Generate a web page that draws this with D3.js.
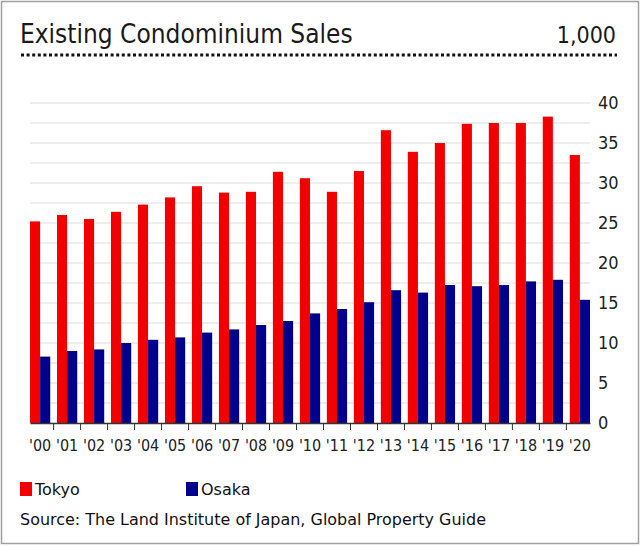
<!DOCTYPE html>
<html><head><meta charset="utf-8">
<script src="https://cdn.jsdelivr.net/npm/d3@7"></script>
<style>body{margin:0;background:#fff}svg{display:block}</style>
</head><body>
<script>
const years = ["'00","'01","'02","'03","'04","'05","'06","'07","'08","'09","'10","'11","'12","'13","'14","'15","'16","'17","'18","'19","'20"];
const tokyo = [25.2,26.0,25.5,26.4,27.3,28.2,29.6,28.8,28.9,31.4,30.6,28.9,31.5,36.6,33.9,35.0,37.4,37.5,37.5,38.3,33.5];
const osaka = [8.3,9.0,9.2,10.0,10.4,10.7,11.3,11.7,12.25,12.75,13.7,14.25,15.1,16.6,16.3,17.25,17.1,17.25,17.7,17.9,15.4];
const yTicks = [0,5,10,15,20,25,30,35,40];
const gridVals = [2.5,5,7.5,10,12.5,15,17.5,20,22.5,25,27.5,30,32.5,35,37.5,40];
const seriesNames = ["Tokyo","Osaka"];
const colors = ["#f20000","#00008c"];

const W=640,H=546;
const svg=d3.select("body").append("svg").attr("width",W).attr("height",H);
const font="'DejaVu Sans Condensed', 'DejaVu Sans', sans-serif";
const font2="'DejaVu Sans', sans-serif";

svg.append("rect").attr("x",1.5).attr("y",1.5).attr("width",W-3).attr("height",H-4)
  .attr("fill","#fff").attr("stroke","#a0a0a0").attr("stroke-width",1.5);

svg.append("text").attr("x",20).attr("y",43).attr("font-family",font).attr("font-size",26)
  .attr("fill","#1a1a1a").text("Existing Condominium Sales");
svg.append("text").attr("x",616).attr("y",43).attr("text-anchor","end").attr("font-family",font)
  .attr("font-size",23).attr("fill","#1a1a1a").text("1,000");
svg.append("line").attr("x1",21).attr("x2",617).attr("y1",55).attr("y2",55)
  .attr("stroke","#111").attr("stroke-width",3).attr("stroke-dasharray","3,2.6");

const x0=d3.scaleBand().domain(years).range([30,590]).paddingInner(0.25).paddingOuter(0);
const x1=d3.scaleBand().domain(seriesNames).range([0,x0.bandwidth()]);
const y=d3.scaleLinear().domain([0,40]).range([423,103]);

svg.append("g").selectAll("line").data(gridVals).join("line")
  .attr("x1",30).attr("x2",590).attr("y1",d=>y(d)).attr("y2",d=>y(d))
  .attr("stroke","#dcdcdc").attr("stroke-width",1);

const yAxis=svg.append("g").attr("transform","translate(590,0)")
  .call(d3.axisRight(y).tickValues(yTicks).tickSize(0).tickPadding(8));
yAxis.select(".domain").remove();
yAxis.selectAll("text").attr("font-family",font).attr("font-size",18).attr("fill","#222");

const groups=svg.append("g").selectAll("g").data(years).join("g")
  .attr("transform",d=>`translate(${x0(d)},0)`);
groups.selectAll("rect").data((d,i)=>[tokyo[i],osaka[i]].map((v,k)=>({k,v}))).join("rect")
  .attr("x",d=>x1(seriesNames[d.k])).attr("width",x1.bandwidth())
  .attr("y",d=>y(d.v)).attr("height",d=>y(0)-y(d.v)).attr("fill",d=>colors[d.k]);

const step=x0.step();
const xAxis=svg.append("g").attr("transform","translate(0,423)")
  .call(d3.axisBottom(x0).tickSize(0).tickPadding(17));
xAxis.select(".domain").attr("stroke","#333").attr("stroke-width",1.5);
xAxis.selectAll("text").attr("font-family",font).attr("font-size",16).attr("fill","#222");
svg.append("g").selectAll("line").data(years.slice(1)).join("line")
  .attr("x1",d=>x0(d)-(step-x0.bandwidth())/2).attr("x2",d=>x0(d)-(step-x0.bandwidth())/2)
  .attr("y1",423).attr("y2",430).attr("stroke","#333").attr("stroke-width",1);

const leg=svg.append("g");
const legX=[20,186];
seriesNames.forEach((n,i)=>{
  leg.append("rect").attr("x",legX[i]).attr("y",482).attr("width",12).attr("height",14).attr("fill",colors[i]);
  leg.append("text").attr("x",legX[i]+15).attr("y",495).attr("font-family",font2).attr("font-size",16)
    .attr("fill","#111").text(n);
});
svg.append("text").attr("x",20).attr("y",525).attr("font-family",font2).attr("font-size",15.5)
  .attr("textLength",466).attr("lengthAdjust","spacingAndGlyphs")
  .attr("fill","#111").text("Source: The Land Institute of Japan, Global Property Guide");
</script>
</body></html>
